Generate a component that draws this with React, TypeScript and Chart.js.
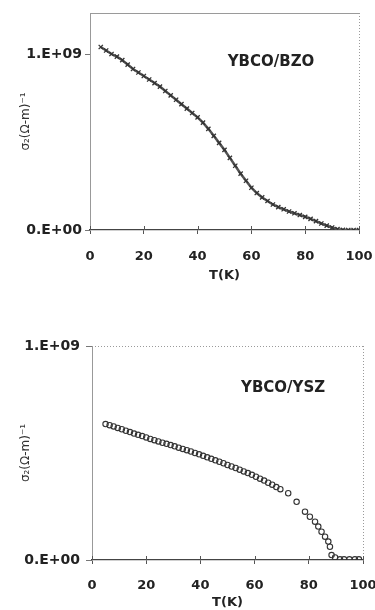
import React, { useEffect, useRef } from 'react';
import { Chart, registerables } from 'chart.js';

Chart.register(...registerables);

// ---------- data ----------
const xTicks = [0, 20, 40, 60, 80, 100];
const yTickValues = [0, 1];
const yTickLabels = ['0.E+00', '1.E+09'];
const xTitle = 'T(K)';
const yTitle = 'σ₂(Ω-m)⁻¹';

// YBCO/BZO  (σ2 in units of 1E+09 (Ω·m)^-1)
const bzoLabel = 'YBCO/BZO';
const bzoT = [4, 6, 8, 10, 12, 14, 16, 18, 20, 22, 24, 26, 28, 30, 32, 34, 36, 38, 40, 42, 44, 46, 48, 50, 52, 54, 56, 58, 60, 62, 64, 66, 68, 70, 72, 74, 76, 78, 80, 82, 84, 86, 88, 90, 92, 94, 96, 98, 100];
const bzoSigma = [1.04, 1.02, 1.0, 0.985, 0.965, 0.94, 0.915, 0.895, 0.875, 0.855, 0.835, 0.815, 0.79, 0.765, 0.74, 0.715, 0.69, 0.665, 0.64, 0.61, 0.575, 0.535, 0.495, 0.455, 0.41, 0.365, 0.32, 0.28, 0.24, 0.21, 0.185, 0.165, 0.145, 0.13, 0.118, 0.105, 0.095, 0.085, 0.075, 0.063, 0.05, 0.037, 0.025, 0.014, 0.005, 0.001, 0, 0, 0];

// YBCO/YSZ
const yszLabel = 'YBCO/YSZ';
const yszT = [5, 6.5, 8, 9.5, 11, 12.5, 14, 15.5, 17, 18.5, 20, 21.5, 23, 24.5, 26, 27.5, 29, 30.5, 32, 33.5, 35, 36.5, 38, 39.5, 41, 42.5, 44, 45.5, 47, 48.5, 50, 51.5, 53, 54.5, 56, 57.5, 59, 60.5, 62, 63.5, 65, 66.5, 68, 69.5, 72.4, 75.5, 78.6, 80.4, 82.3, 83.5, 84.7, 86, 87.2, 87.8, 88.4, 89.7, 91.5, 93, 95, 97, 98.5];
const yszSigma = [0.635, 0.63, 0.624, 0.617, 0.611, 0.604, 0.598, 0.591, 0.585, 0.579, 0.573, 0.566, 0.56, 0.554, 0.548, 0.543, 0.537, 0.531, 0.525, 0.519, 0.513, 0.507, 0.5, 0.494, 0.487, 0.48, 0.473, 0.466, 0.459, 0.452, 0.444, 0.437, 0.43, 0.422, 0.414, 0.406, 0.398, 0.389, 0.38, 0.371, 0.361, 0.352, 0.341, 0.331, 0.312, 0.272, 0.226, 0.202, 0.179, 0.156, 0.132, 0.109, 0.086, 0.062, 0.023, 0.012, 0.003, 0.003, 0.003, 0.003, 0.003];

// ---------- helpers ----------
const FONT = '"DejaVu Sans", "Liberation Sans", sans-serif';

type PanelOpts = {
  T: number[];
  S: number[];
  label: string;
  labelAt: [number, number];
  yMax: number;
  pad: { top: number; right: number };
  yWidth: number;
  xHeight: number;
  yTickLen: number;
  yTickPad: number;
  xLabelPad: number;
  xTitlePad: number;
  topDotted: boolean;
  circles: boolean;
};

function framePlugin(o: PanelOpts) {
  return {
    id: 'frame',
    afterDraw(chart: any) {
      const { ctx, chartArea: a, scales } = chart;
      ctx.save();
      ctx.strokeStyle = '#9a9a9a';
      ctx.lineWidth = 1;
      ctx.setLineDash(o.topDotted ? [1, 2] : []);
      ctx.beginPath();
      ctx.moveTo(a.left, Math.round(a.top) + 0.5);
      ctx.lineTo(a.right, Math.round(a.top) + 0.5);
      ctx.stroke();
      ctx.setLineDash([1, 2]);
      ctx.beginPath();
      ctx.moveTo(Math.round(a.right) + 0.5, a.top);
      ctx.lineTo(Math.round(a.right) + 0.5, a.bottom);
      ctx.stroke();
      ctx.setLineDash([]);
      ctx.strokeStyle = '#555';
      for (const t of xTicks) {
        const px = Math.round(scales.x.getPixelForValue(t)) + 0.5;
        ctx.beginPath();
        ctx.moveTo(px, a.bottom);
        ctx.lineTo(px, a.bottom - 4);
        ctx.stroke();
      }
      ctx.font = `bold 15px ${FONT}`;
      ctx.fillStyle = '#222';
      ctx.textAlign = 'center';
      ctx.textBaseline = 'middle';
      ctx.fillText(o.label, scales.x.getPixelForValue(o.labelAt[0]), scales.y.getPixelForValue(o.labelAt[1]));
      ctx.restore();
    },
  };
}

function makeConfig(o: PanelOpts): any {
  const data = o.T.map((t, i) => ({ x: t, y: o.S[i] }));
  return {
    type: 'scatter',
    data: {
      datasets: [
        o.circles
          ? {
              data,
              showLine: false,
              pointStyle: 'circle',
              pointRadius: 2.7,
              pointBorderWidth: 1.1,
              pointBorderColor: '#333',
              pointBackgroundColor: 'rgba(255,255,255,0)',
            }
          : {
              data,
              showLine: true,
              borderColor: '#555',
              borderWidth: 2.5,
              pointStyle: 'crossRot',
              pointRadius: 3,
              pointBorderWidth: 1.3,
              pointBorderColor: '#333',
              pointBackgroundColor: '#333',
            },
      ],
    },
    options: {
      animation: false,
      responsive: false,
      events: [],
      layout: { padding: { top: o.pad.top, right: o.pad.right, left: 0, bottom: 0 } },
      plugins: { legend: { display: false }, tooltip: { enabled: false } },
      scales: {
        x: {
          type: 'linear',
          min: 0,
          max: 100,
          afterBuildTicks: (ax: any) => {
            ax.ticks = xTicks.map((v) => ({ value: v }));
          },
          afterFit: (ax: any) => {
            ax.height = o.xHeight;
            ax.paddingLeft = 0;
            ax.paddingRight = 0;
          },
          grid: { display: true, drawOnChartArea: false, drawTicks: true, tickLength: 4, color: '#555' },
          border: { display: true, color: '#444', width: 1.3 },
          ticks: {
            font: { family: FONT, size: 13, weight: 'bold' },
            color: '#222',
            padding: o.xLabelPad,
            maxRotation: 0,
            autoSkip: false,
          },
          title: {
            display: true,
            text: xTitle,
            font: { family: FONT, size: 13, weight: 'bold' },
            color: '#222',
            padding: { top: 0, bottom: o.xTitlePad },
          },
        },
        y: {
          type: 'linear',
          min: 0,
          max: o.yMax,
          afterBuildTicks: (ax: any) => {
            ax.ticks = yTickValues.map((v) => ({ value: v }));
          },
          afterFit: (ax: any) => {
            ax.width = o.yWidth;
            ax.paddingTop = 0;
            ax.paddingBottom = 0;
          },
          grid: { display: true, drawOnChartArea: false, drawTicks: true, tickLength: o.yTickLen, color: '#777' },
          border: { display: true, color: '#999', width: 1 },
          ticks: {
            font: { family: FONT, size: 14, weight: 'bold' },
            color: '#222',
            padding: o.yTickPad,
            callback: (v: number) => yTickLabels[yTickValues.indexOf(v)] ?? '',
          },
          title: {
            display: true,
            text: yTitle,
            font: { family: FONT, size: 12 },
            color: '#333',
            padding: { top: 19, bottom: 0 },
          },
        },
      },
    },
    plugins: [framePlugin(o)],
  };
}

const topOpts: PanelOpts = {
  T: bzoT,
  S: bzoSigma,
  label: bzoLabel,
  labelAt: [67.3, 0.955],
  yMax: 1.233,
  pad: { top: 13, right: 16 },
  yWidth: 90,
  xHeight: 60,
  yTickLen: 5,
  yTickPad: 3,
  xLabelPad: 15,
  xTitlePad: 7,
  topDotted: false,
  circles: false,
};

const bottomOpts: PanelOpts = {
  T: yszT,
  S: yszSigma,
  label: yszLabel,
  labelAt: [70.5, 0.804],
  yMax: 1,
  pad: { top: 46, right: 12 },
  yWidth: 92,
  xHeight: 50,
  yTickLen: 6,
  yTickPad: 6,
  xLabelPad: 14,
  xTitlePad: 0,
  topDotted: true,
  circles: true,
};

function Panel({ opts, top, height }: { opts: PanelOpts; top: number; height: number }) {
  const ref = useRef<HTMLCanvasElement | null>(null);
  useEffect(() => {
    if (!ref.current) return;
    const chart = new Chart(ref.current, makeConfig(opts));
    return () => chart.destroy();
  }, [opts]);
  return (
    <canvas
      ref={ref}
      width={375}
      height={height}
      style={{ position: 'absolute', left: 0, top, width: 375, height }}
    />
  );
}

export default function App() {
  return (
    <div style={{ position: 'fixed', left: 0, top: 0, width: 375, height: 610, background: '#fff', overflow: 'hidden' }}>
      <Panel opts={topOpts} top={0} height={290} />
      <Panel opts={bottomOpts} top={300} height={310} />
    </div>
  );
}
